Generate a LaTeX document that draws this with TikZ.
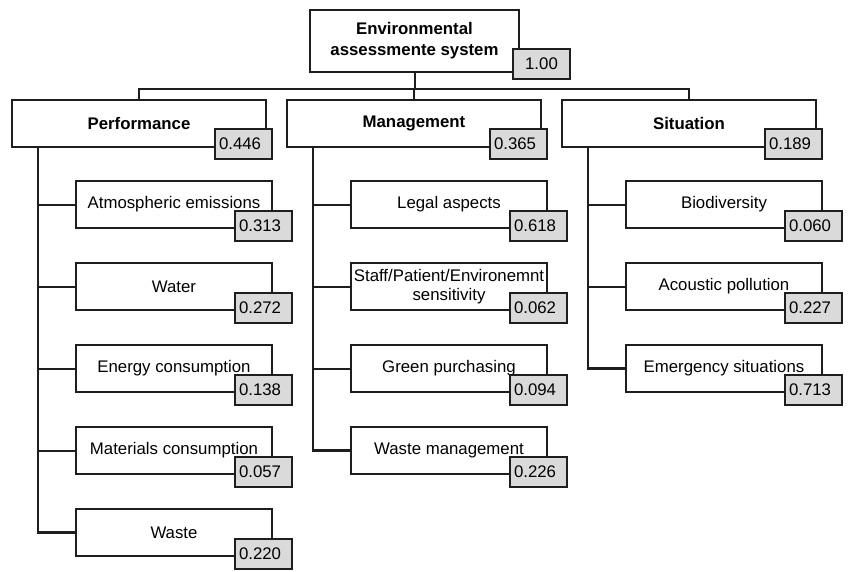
\documentclass[tikz,border=0pt]{standalone}
\usepackage{fontspec}
\setmainfont{Liberation Sans}
\usetikzlibrary{positioning}
\definecolor{boxline}{HTML}{1E1E1E}
\definecolor{wfill}{HTML}{DADADA}
\tikzset{
    topbox/.style={draw=boxline, line width=2pt, fill=white, align=center,
        font=\fontsize{16.8}{21}\selectfont\bfseries,
        minimum width=209pt, minimum height=62pt, outer sep=0pt},
    critbox/.style={draw=boxline, line width=2pt, fill=white,
        font=\fontsize{16.8}{20}\selectfont\bfseries,
        minimum width=254pt, minimum height=47pt, outer sep=0pt},
    subbox/.style={draw=boxline, line width=2pt, fill=white, align=center,
        font=\fontsize{16.8}{18.5}\selectfont, inner xsep=2pt,
        minimum width=196pt, minimum height=47pt, outer sep=0pt},
    wbox/.style={draw=boxline, line width=2pt, fill=wfill, align=left,
        font=\fontsize{16.8}{20}\selectfont, inner xsep=0pt, text width=49pt,
        minimum width=57pt, minimum height=30pt, outer sep=0pt},
    tline/.style={draw=boxline, line width=2pt},
    trunk/.style={draw=boxline, line width=2.6pt}
}

\begin{document}
\begin{tikzpicture}[x=1pt, y=-1pt, node distance=35pt]
\useasboundingbox (0,0) rectangle (849,571);
% top level
\node[topbox] (eas) at (414.5,41) {Environmental\\assessmente system};
\node[wbox, align=center, anchor=south west] (weas) at ([xshift=-6pt,yshift=-7pt]eas.south east) {1.00};
% criteria
\node[critbox] (perf) at (139,123.5) {Performance};
\node[critbox, right=21pt of perf] (mgmt) {Management};
\node[critbox, right=21pt of mgmt] (sit) {Situation};
\node[wbox, anchor=south east] (wperf) at ([xshift=6pt,yshift=-12pt]perf.south east) {0.446};
\node[wbox, anchor=south east] (wmgmt) at ([xshift=6pt,yshift=-12pt]mgmt.south east) {0.365};
\node[wbox, anchor=south east] (wsit) at ([xshift=6pt,yshift=-12pt]sit.south east) {0.189};
\coordinate (bus) at ([yshift=-17pt]eas.south);
\draw[tline] (eas.south) -- (bus);
\draw[tline] (perf.north) |- (bus) -| (sit.north);
\draw[tline] (mgmt.north) -- (mgmt.north |- bus);

% performance
\node[subbox, below right=34pt and 64pt of perf.south west] (atmo) {Atmospheric emissions};
\node[subbox, below=of atmo] (water) {Water};
\node[subbox, below=of water] (energy) {Energy consumption};
\node[subbox, below=of energy] (mater) {Materials consumption};
\node[subbox, below=of mater] (waste) {Waste};
\coordinate (ptrunk) at ([xshift=26pt]perf.south west);
\draw[trunk] (ptrunk) -- (ptrunk |- waste.west) -- (waste.west);
\foreach \c in {atmo,water,energy,mater}
    \draw[tline] (ptrunk |- \c.west) -- (\c.west);
\node[wbox, anchor=south east] (watmo) at ([xshift=20pt,yshift=-12.5pt]atmo.south east) {0.313};
\node[wbox, anchor=south east] (wwater) at ([xshift=20pt,yshift=-12.5pt]water.south east) {0.272};
\node[wbox, anchor=south east] (wenergy) at ([xshift=20pt,yshift=-12.5pt]energy.south east) {0.138};
\node[wbox, anchor=south east] (wmater) at ([xshift=20pt,yshift=-12.5pt]mater.south east) {0.057};
\node[wbox, anchor=south east] (wwaste) at ([xshift=20pt,yshift=-12.5pt]waste.south east) {0.220};

% management
\node[subbox, below right=34pt and 64pt of mgmt.south west] (legal) {Legal aspects};
\node[subbox, below=of legal] (staff) {Staff/Patient/Environemnt\\sensitivity};
\node[subbox, below=of staff] (green) {Green purchasing};
\node[subbox, below=of green] (wmgt) {Waste management};
\coordinate (mtrunk) at ([xshift=26pt]mgmt.south west);
\draw[trunk] (mtrunk) -- (mtrunk |- wmgt.west) -- (wmgt.west);
\foreach \c in {legal,staff,green}
    \draw[tline] (mtrunk |- \c.west) -- (\c.west);
\node[wbox, anchor=south east] (wlegal) at ([xshift=20pt,yshift=-12.5pt]legal.south east) {0.618};
\node[wbox, anchor=south east] (wstaff) at ([xshift=20pt,yshift=-12.5pt]staff.south east) {0.062};
\node[wbox, anchor=south east] (wgreen) at ([xshift=20pt,yshift=-12.5pt]green.south east) {0.094};
\node[wbox, anchor=south east] (wwmgt) at ([xshift=20pt,yshift=-12.5pt]wmgt.south east) {0.226};

% situation
\node[subbox, below right=34pt and 64pt of sit.south west] (bio) {Biodiversity};
\node[subbox, below=of bio] (acou) {Acoustic pollution};
\node[subbox, below=of acou] (emer) {Emergency situations};
\coordinate (strunk) at ([xshift=26pt]sit.south west);
\draw[trunk] (strunk) -- (strunk |- emer.west) -- (emer.west);
\foreach \c in {bio,acou}
    \draw[tline] (strunk |- \c.west) -- (\c.west);
\node[wbox, anchor=south east] (wbio) at ([xshift=20pt,yshift=-12.5pt]bio.south east) {0.060};
\node[wbox, anchor=south east] (wacou) at ([xshift=20pt,yshift=-12.5pt]acou.south east) {0.227};
\node[wbox, anchor=south east] (wemer) at ([xshift=20pt,yshift=-12.5pt]emer.south east) {0.713};
\end{tikzpicture}
\end{document}
